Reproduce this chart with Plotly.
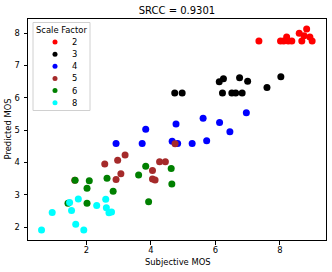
import plotly.graph_objects as go

# grouped by scale factor
sf2_x = [7.35, 8.02, 8.21, 8.26, 8.37, 8.60, 8.68, 8.75, 8.83, 8.93, 9.00, 8.12]
sf2_y = [7.76, 7.76, 7.88, 7.76, 7.76, 8.00, 7.76, 7.92, 8.13, 7.88, 7.76, 7.76]

sf3_x = [4.74, 4.97, 6.12, 6.25, 6.22, 6.51, 6.63, 6.83, 6.75, 7.00, 7.60, 8.03]
sf3_y = [6.15, 6.15, 6.50, 6.59, 6.15, 6.15, 6.15, 6.15, 6.62, 6.51, 6.32, 6.65]

sf4_x = [3.84, 4.78, 5.62, 6.13, 6.45, 6.96, 2.92, 3.73, 4.66, 4.83, 5.28, 5.73]
sf4_y = [5.03, 5.19, 5.37, 5.24, 4.95, 5.54, 4.59, 4.59, 4.66, 4.59, 4.59, 4.67]

sf5_x = [1.64, 2.57, 2.97, 3.20, 2.92, 3.07, 4.05, 4.27, 4.45, 4.05, 4.13, 4.75]
sf5_y = [3.45, 3.95, 4.07, 4.23, 3.47, 3.65, 3.75, 4.02, 4.02, 3.49, 3.46, 4.58]

sf6_x = [1.65, 2.09, 2.02, 1.43, 2.02, 2.64, 2.83, 3.62, 3.84, 3.93, 4.63, 4.65]
sf6_y = [3.45, 3.43, 3.20, 2.74, 2.74, 3.51, 3.11, 3.61, 3.88, 2.78, 3.81, 3.33]

sf8_x = [0.61, 0.94, 1.48, 1.54, 1.67, 1.75, 1.92, 2.32, 2.60, 2.62, 2.70, 2.78]
sf8_y = [1.91, 2.45, 2.76, 2.51, 2.09, 2.87, 1.91, 2.67, 2.86, 2.60, 2.44, 2.47]

groups = [
    ('2', sf2_x, sf2_y, 'red'),
    ('3', sf3_x, sf3_y, 'black'),
    ('4', sf4_x, sf4_y, 'blue'),
    ('5', sf5_x, sf5_y, 'brown'),
    ('6', sf6_x, sf6_y, 'green'),
    ('8', sf8_x, sf8_y, 'cyan'),
]

W, H = 332, 272
L, R, T, B = 28, 6, 19, 32
pw, ph = W - L - R, H - T - B
FS = 8.4  # matplotlib 10pt at this small dpi


def px(x):
    # pixel -> paper x
    return (x - L) / pw


def py(y):
    # pixel -> paper y
    return (H - B - y) / ph


fig = go.Figure()
for name, xs, ys, color in groups:
    fig.add_trace(go.Scatter(x=xs, y=ys, mode='markers', name=name, showlegend=False,
                             marker=dict(color=color, size=7, line=dict(width=0))))

# matplotlib-style legend box, built by hand so the rows stay tight
shapes = [dict(type='rect', xref='paper', yref='paper', x0=px(33), x1=px(90), y0=py(110.5), y1=py(22.5),
               line=dict(color='#d0d0d0', width=1), fillcolor='rgba(255,255,255,0.8)', layer='above')]
annotations = [dict(text='Scale Factor', xref='paper', yref='paper', x=px(61.5), y=py(29.5),
                    showarrow=False, xanchor='center', yanchor='middle', font=dict(size=FS))]
for i, (name, xs, ys, color) in enumerate(groups):
    cy = 42 + i * 12.15
    shapes.append(dict(type='circle', xref='paper', yref='paper', x0=px(52.5), x1=px(57.5),
                       y0=py(cy + 2.5), y1=py(cy - 2.5), fillcolor=color, line=dict(width=0), layer='above'))
    annotations.append(dict(text=name, xref='paper', yref='paper', x=px(70), y=py(cy),
                            showarrow=False, xanchor='left', yanchor='middle', font=dict(size=FS)))

annotations.append(dict(text='Subjective MOS', xref='paper', yref='paper', x=px(177.5), y=py(261.5),
                        showarrow=False, xanchor='center', yanchor='middle', font=dict(size=FS)))
annotations.append(dict(text='Predicted MOS', xref='paper', yref='paper', x=px(7), y=0.5, textangle=-90,
                        showarrow=False, xanchor='center', yanchor='middle', font=dict(size=FS)))

axis_style = dict(showgrid=False, zeroline=False, showline=True, linecolor='black',
                  linewidth=1, mirror=True, ticks='outside', ticklen=3.5,
                  tickcolor='black', tickfont=dict(size=FS, color='black'))

fig.update_layout(
    width=W, height=H,
    margin=dict(l=L, r=R, t=T, b=B),
    plot_bgcolor='white', paper_bgcolor='white',
    font=dict(family='DejaVu Sans', size=FS, color='black'),
    title=dict(text='SRCC = 0.9301', x=0.533, xanchor='center', y=1 - 10 / H, yanchor='middle',
               yref='container', font=dict(size=10)),
    xaxis=dict(range=[0.19, 9.43], tickvals=[2, 4, 6, 8], ticklabelstandoff=-2, **axis_style),
    yaxis=dict(range=[1.6, 8.44], tickvals=[2, 3, 4, 5, 6, 7, 8], ticklabelstandoff=2, **axis_style),
    shapes=shapes,
    annotations=annotations,
    showlegend=False,
)

# the page's default 8px body margin would push the 332x272 figure off the window
fig.write_html('out.html', config={'displayModeBar': False},
               post_script="document.body.style.margin = '0';")
